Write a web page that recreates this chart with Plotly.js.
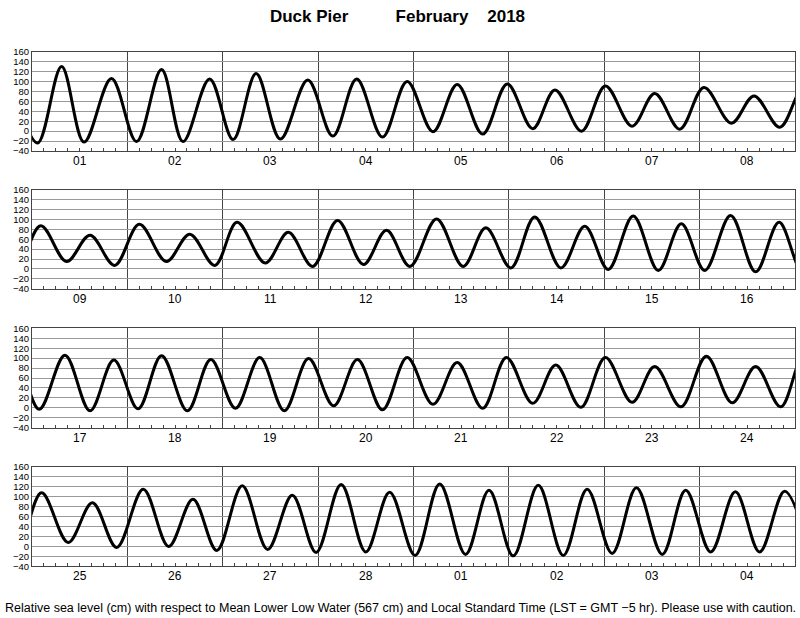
<!DOCTYPE html>
<html>
<head>
<meta charset="utf-8">
<script src="https://cdn.plot.ly/plotly-3.0.1.min.js"></script>
<style>
  html, body { margin: 0; padding: 0; background: #fff; }
  #chart { width: 800px; height: 618px; }
</style>
</head>
<body>
<div id="chart"></div>
<script>
// Times of high and low water, in hours from 1 February 2018 00:00 LST
const extremaHour = [
  -4.9, 1.4, 7.45, 13.1, 20.0, 26.3, 32.6, 38.0, 44.7, 50.6, 56.4, 62.5, 69.4, 75.7, 81.7, 88.2,
  94.4, 100.9, 107.0, 113.4, 119.6, 126.0, 131.6, 138.3, 144.3, 151.0, 156.7, 163.0, 169.1, 176.0, 181.7, 188.2,
  194.2, 200.7, 206.6, 212.8, 219.0, 225.8, 231.7, 238.0, 243.6, 250.7, 256.5, 262.6, 268.9, 275.4, 281.2, 287.1,
  293.8, 300.5, 306.2, 312.5, 318.5, 325.1, 331.1, 337.0, 343.3, 349.6, 355.4, 361.3, 367.8, 374.1, 380.0,
  385.8, 392.3, 398.6, 404.6, 410.7, 416.6, 423.1, 429.0, 435.2, 441.3, 447.5, 453.6, 459.9, 465.9, 472.2, 478.4,
  484.9, 491.0, 497.4, 503.4, 510.0, 515.8, 522.1, 528.3, 535.0, 540.7, 547.3, 553.7, 560.2, 566.1, 572.4,
  578.4, 585.1, 591.2, 597.3, 604.0, 610.4, 616.5, 622.5, 628.9, 635.3, 641.5, 647.5, 653.8, 660.0, 666.0, 672.4,
  678.6, 685.1, 691.0, 697.1, 703.4, 709.7, 715.7, 722.0, 728.1, 734.6, 740.5, 746.8, 753.0, 759.1, 765.4, 771.6
];
// Relative sea level at those times (cm, MLLW)
const extremaLevel = [
  100, -24, 130, -22, 106, -21, 124, -21, 105, -17, 116, -16, 103, -10, 105, -12,
  100, -1, 94, -6, 95, 5, 83, 0, 91, 10, 76, 4, 88, 16, 71, 8,
  87, 15, 68, 7, 90, 15, 70, 7, 94, 12, 74, 5, 98, 9, 78, 5,
  101, 5, 83, 2, 105, 2, 86, -1, 107, -3, 91, -3, 108, -6, 94,
  -3, 106, -6, 96, -2, 105, -6, 97, -1, 101, -6, 99, 4, 97, -4, 101,
  7, 91, -1, 101, 9, 86, 1, 101, 11, 83, 2, 104, 10, 83, 2,
  108, 8, 88, -2, 115, 0, 95, -8, 122, -6, 103, -12, 125, -11, 109, -18,
  126, -16, 113, -19, 123, -18, 115, -14, 118, -16, 113, -11, 110, -11, 111, -10
];
const dayLabels = [
  "01","02","03","04","05","06","07","08",
  "09","10","11","12","13","14","15","16",
  "17","18","19","20","21","22","23","24",
  "25","26","27","28","01","02","03","04"
];
const yTicks = [-40, -20, 0, 20, 40, 60, 80, 100, 120, 140, 160];

const FONT = "Liberation Sans, Arial, Helvetica, sans-serif";
const nPanels = 4, daysPerPanel = 8;
const H = 618;
const panelPx = [[51.7, 151], [189.7, 288.7], [328.3, 427.7], [467, 566.3]];
const NB = "\u00a0";

const traces = [];
const layout = {
  width: 800, height: 618,
  margin: {l: 32, r: 5, t: 0, b: 0},
  paper_bgcolor: "#fff", plot_bgcolor: "#fff",
  showlegend: false,
  font: {family: FONT, color: "#000"},
  title: {
    text: "<b>Duck Pier" + NB.repeat(10) + "February" + NB.repeat(4) + "2018</b>",
    font: {family: FONT, size: 17, color: "#000"},
    x: (397.5 - 32) / 763, xref: "paper", xanchor: "center",
    y: 1 - 16 / H, yref: "container", yanchor: "middle"
  },
  annotations: [],
  shapes: []
};

for (let p = 0; p < nPanels; p++) {
  const sfx = p === 0 ? "" : String(p + 1);
  const xa = "x" + sfx, ya = "y" + sfx;
  const start = p * daysPerPanel * 24, end = start + daysPerPanel * 24;
  traces.push({
    x: extremaHour, y: extremaLevel,
    xaxis: xa, yaxis: ya,
    type: "scatter", mode: "lines",
    line: {color: "#000", width: 3, shape: "spline", smoothing: 1},
    hoverinfo: "skip"
  });
  const [top, bot] = panelPx[p];
  layout["xaxis" + sfx] = {
    anchor: ya, domain: [0, 1],
    range: [start, end], tick0: 0, dtick: 24,
    showgrid: true, gridcolor: "#444", gridwidth: 1,
    showticklabels: false, ticks: "", zeroline: false,
    showline: true, mirror: true, linecolor: "#444", linewidth: 1,
    minor: {tick0: 0, dtick: 3, ticks: "inside", ticklen: 3, tickcolor: "#444", tickwidth: 1, showgrid: false}
  };
  layout["yaxis" + sfx] = {
    anchor: xa, domain: [1 - bot / H, 1 - top / H],
    range: [-40, 160], tickmode: "array", tickvals: yTicks,
    showgrid: true, gridcolor: "#999", gridwidth: 1,
    ticks: "", ticklen: 0, zeroline: false,
    tickfont: {family: FONT, size: 9.5, color: "#000"},
    showline: true, mirror: true, linecolor: "#444", linewidth: 1
  };
  for (let d = 0; d < daysPerPanel; d++) {
    layout.annotations.push({
      text: dayLabels[p * daysPerPanel + d],
      xref: xa, yref: ya + " domain",
      x: start + d * 24 + 12, y: 0,
      xanchor: "center", yanchor: "top", yshift: -1,
      showarrow: false,
      font: {family: FONT, size: 12, color: "#000"}
    });
  }
}

layout.annotations.push({
  text: "Relative sea level (cm) with respect to Mean Lower Low Water (567 cm) and Local Standard Time (LST = GMT \u22125 hr). Please use with caution.",
  xref: "paper", yref: "paper", x: (400 - 32) / 763, y: 1 - 608 / H,
  xanchor: "center", yanchor: "middle", showarrow: false,
  font: {family: FONT, size: 12.5, color: "#000"}
});

Plotly.newPlot("chart", traces, layout, {staticPlot: true, displayModeBar: false});
</script>
</body>
</html>
